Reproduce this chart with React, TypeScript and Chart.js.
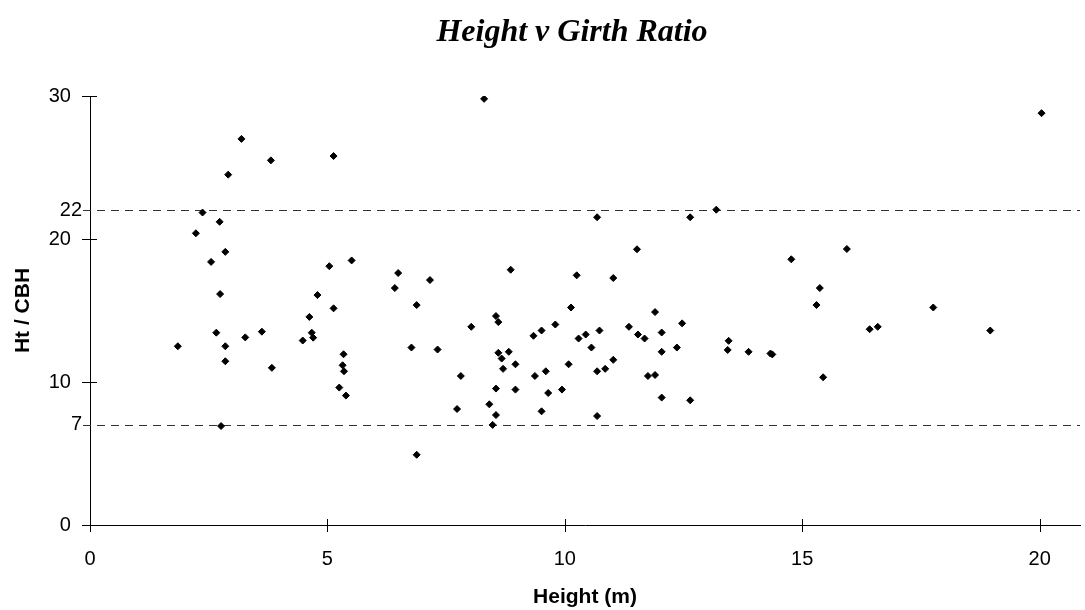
import React, { useEffect, useRef } from "react";
import { Chart, registerables } from "chart.js";

Chart.register(...registerables);

const chartTitle = "Height v Girth Ratio";
const xTitle = "Height (m)";
const yTitle = "Ht / CBH";

const heights = [
  3.19, 3.81, 5.13, 2.91, 2.37, 2.73, 2.23, 2.85, 2.55, 5.04,
  5.51, 2.74, 4.79, 5.13, 4.62, 2.66, 3.62, 4.67, 4.7, 3.27,
  4.48, 1.85, 2.85, 5.34, 2.85, 3.83, 5.32, 5.35, 5.25, 5.39,
  2.76, 8.3, 10.68, 11.52, 6.49, 6.42, 7.16, 8.86, 10.25, 11.02,
  6.88, 6.77, 7.32, 7.81, 7.73, 6.88, 8.03, 8.55, 8.6, 8.6,
  8.82, 8.67, 8.7, 8.96, 8.55, 8.96, 8.41, 8.55, 8.48, 9.34,
  9.51, 9.8, 10.13, 10.29, 10.44, 10.73, 10.56, 9.37, 9.6, 10.08,
  9.65, 9.94, 9.51, 10.68, 10.85, 11.02, 10.68, 11.35, 11.54, 11.68,
  11.9, 12.04, 12.04, 11.75, 11.9, 12.04, 13.19, 12.64, 15.94, 14.77,
  15.37, 15.3, 17.76, 16.42, 16.59, 18.96, 12.47, 12.36, 13.45, 13.43,
  13.87, 14.33, 14.37, 15.44, 12.64, 20.04,
];

const ratios = [
  27.0, 25.5, 25.8, 24.5, 21.85, 21.2, 20.4, 19.1, 18.4, 18.1,
  18.5, 16.15, 16.08, 15.15, 14.55, 13.45, 13.52, 13.45, 13.1, 13.12,
  12.9, 12.5, 12.5, 11.94, 11.45, 10.99, 11.17, 10.75, 9.61, 9.05,
  6.92, 29.8, 21.52, 19.28, 17.62, 16.57, 17.13, 17.85, 17.46, 17.27,
  15.38, 12.41, 12.27, 10.42, 8.11, 4.91, 13.86, 14.61, 14.19, 12.04,
  12.11, 11.64, 10.92, 11.24, 9.54, 9.47, 8.44, 7.69, 7.0, 13.23,
  13.6, 14.02, 15.21, 13.04, 13.32, 13.6, 12.41, 10.42, 10.75, 11.24,
  9.23, 9.47, 7.95, 10.75, 10.92, 11.55, 7.62, 13.86, 13.32, 13.04,
  14.89, 13.46, 12.11, 10.42, 10.49, 8.91, 22.05, 21.52, 19.3, 18.58,
  16.57, 15.38, 15.21, 13.69, 13.86, 13.6, 14.1, 12.41, 12.88, 12.24,
  12.11, 11.99, 11.93, 10.33, 8.72, 28.8,
];

const xTicks = [0, 5, 10, 15, 20];
const yTicks = [0, 7, 10, 20, 22, 30];
const majorY = [0, 10, 20, 30];
const guideLines = [22, 7];

const sans = '"Liberation Sans", Arial, sans-serif';

export default function App() {
  const ref = useRef<HTMLCanvasElement>(null);

  useEffect(() => {
    document.body.style.margin = "0";
    const canvas = ref.current;
    if (!canvas) return;

    const points = heights.map((h, i) => ({ x: h, y: ratios[i] }));

    const extras = {
      id: "extras",
      beforeDatasetsDraw(chart: any) {
        const { ctx, chartArea, scales } = chart;
        const y = scales.y;
        ctx.save();
        ctx.strokeStyle = "#333";
        ctx.lineWidth = 1;
        ctx.setLineDash([8, 6]);
        guideLines.forEach((v) => {
          const py = Math.round(y.getPixelForValue(v)) + 0.5;
          ctx.beginPath();
          ctx.moveTo(chartArea.left - 7, py);
          ctx.lineTo(chartArea.right, py);
          ctx.stroke();
        });
        ctx.restore();
      },
      afterDraw(chart: any) {
        const { ctx, chartArea, scales } = chart;
        const { x, y } = scales;
        ctx.save();
        ctx.strokeStyle = "#000";
        ctx.lineWidth = 1;
        ctx.beginPath();
        xTicks.forEach((v) => {
          const px = Math.round(x.getPixelForValue(v)) + 0.5;
          ctx.moveTo(px, chartArea.bottom - 6);
          ctx.lineTo(px, chartArea.bottom + 7);
        });
        majorY.forEach((v) => {
          const py = Math.round(y.getPixelForValue(v)) + 0.5;
          ctx.moveTo(chartArea.left - 8, py);
          ctx.lineTo(chartArea.left + 7, py);
        });
        ctx.stroke();
        ctx.fillStyle = "#000";
        ctx.font = 'italic bold 32px "Liberation Serif", "Times New Roman", serif';
        ctx.textAlign = "center";
        ctx.textBaseline = "middle";
        ctx.fillText(chartTitle, 572, 33);
        ctx.restore();
      },
    };

    const chart = new Chart(canvas, {
      type: "scatter",
      data: {
        datasets: [
          {
            label: yTitle,
            data: points,
            pointStyle: "rectRot",
            radius: 3.5,
            backgroundColor: "#000",
            borderColor: "#000",
            borderWidth: 1,
          },
        ],
      },
      options: {
        responsive: false,
        animation: false,
        layout: { padding: { top: 96, right: 3, left: 0, bottom: 0 } },
        plugins: {
          legend: { display: false },
          tooltip: { enabled: false },
          title: { display: false },
        },
        scales: {
          x: {
            type: "linear",
            min: 0,
            max: 20.85,
            afterBuildTicks: (s: any) => {
              s.ticks = xTicks.map((v) => ({ value: v }));
            },
            afterFit: (s: any) => {
              s.height = 85;
            },
            grid: { display: true, drawOnChartArea: false, drawTicks: false },
            border: { display: true, color: "#000", width: 1 },
            ticks: {
              padding: 22,
              color: "#000",
              maxRotation: 0,
              autoSkip: false,
              font: { family: sans, size: 20 },
            },
            title: {
              display: true,
              text: xTitle,
              color: "#000",
              font: { family: sans, size: 21, weight: "bold" },
              padding: { top: 0, bottom: 0 },
            },
          },
          y: {
            type: "linear",
            min: 0,
            max: 30,
            afterBuildTicks: (s: any) => {
              s.ticks = yTicks.map((v) => ({ value: v }));
            },
            afterFit: (s: any) => {
              s.width = 90;
            },
            grid: { display: true, drawOnChartArea: false, drawTicks: false },
            border: { display: true, color: "#000", width: 1 },
            ticks: {
              padding: 8,
              color: "#000",
              autoSkip: false,
              font: { family: sans, size: 20 },
              callback: (v: any) => (majorY.includes(Number(v)) ? `${v}  ` : `${v}`),
            },
            title: {
              display: true,
              text: yTitle,
              color: "#000",
              font: { family: sans, size: 21, weight: "bold" },
              padding: { top: 11, bottom: 0 },
            },
          },
        },
      },
      plugins: [extras],
    });

    return () => chart.destroy();
  }, []);

  return (
    <div style={{ width: 1085, height: 610 }}>
      <canvas ref={ref} width={1085} height={610} style={{ display: "block" }} />
    </div>
  );
}
